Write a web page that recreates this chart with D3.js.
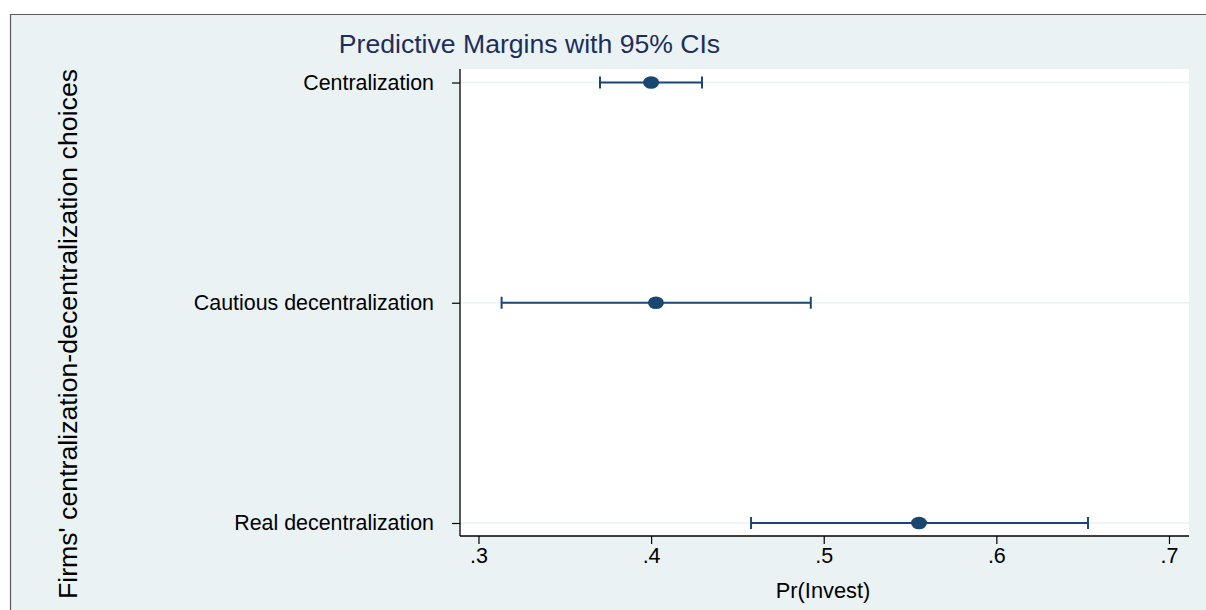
<!DOCTYPE html>
<html>
<head>
<meta charset="utf-8">
<script src="https://cdn.jsdelivr.net/npm/d3@7"></script>
<style>
  html, body { margin: 0; padding: 0; background: #ffffff; }
  svg { display: block; }
  text { font-family: "Liberation Sans", Arial, sans-serif; }
</style>
</head>
<body>
<svg id="chart" width="1206" height="610"></svg>
<script>
// ---- data ----
const categories = ["Centralization", "Cautious decentralization", "Real decentralization"];
const margins    = [0.4000, 0.4028, 0.5552];
const ciLow      = [0.3704, 0.3134, 0.4579];
const ciHigh     = [0.4295, 0.4925, 0.6531];
const xTicks     = [0.3, 0.4, 0.5, 0.6, 0.7];
const xTickLabels = [".3", ".4", ".5", ".6", ".7"];
const titleText  = "Predictive Margins with 95% CIs";
const xTitle     = "Pr(Invest)";
const yTitle     = "Firms' centralization-decentralization choices";

// ---- layout ----
const W = 1206, H = 610;
const plot = { left: 460, right: 1189, top: 69, bottom: 536 };
const navy = "#1a476f";
const bg = "#eaf2f3";
const fontFam = "'Liberation Sans', Arial, sans-serif";

const svg = d3.select("#chart");

// outer frame
svg.append("rect").attr("x", 10).attr("y", 14).attr("width", W - 10).attr("height", H - 14)
  .attr("fill", bg);
svg.append("line").attr("x1", 10).attr("x2", W).attr("y1", 14.5).attr("y2", 14.5)
  .attr("stroke", "#5a5a5a").attr("stroke-width", 1.2);
svg.append("line").attr("x1", 10.5).attr("x2", 10.5).attr("y1", 14).attr("y2", H)
  .attr("stroke", "#5a5a5a").attr("stroke-width", 1.2);

// plot region
svg.append("rect").attr("x", plot.left).attr("y", plot.top)
  .attr("width", plot.right - plot.left).attr("height", plot.bottom - plot.top)
  .attr("fill", "#ffffff");

const x = d3.scaleLinear().domain([0.2893, 0.7116]).range([plot.left, plot.right]);
const y = d3.scalePoint().domain(categories).range([82.5, 523]);

// gridlines
svg.append("g").selectAll("line").data(categories).join("line")
  .attr("x1", plot.left).attr("x2", plot.right)
  .attr("y1", d => y(d)).attr("y2", d => y(d))
  .attr("stroke", bg).attr("stroke-width", 1.6);

// x axis
const xAxis = svg.append("g").attr("transform", `translate(0,${plot.bottom})`)
  .call(d3.axisBottom(x).tickValues(xTicks).tickFormat((d, i) => xTickLabels[i]).tickSize(8).tickPadding(4));
xAxis.select(".domain").attr("stroke", "#000").attr("stroke-width", 1.3)
  .attr("d", `M${plot.left},0H${plot.right}`);
xAxis.selectAll(".tick line").attr("stroke", "#000").attr("stroke-width", 1.2);
xAxis.selectAll(".tick text").attr("font-size", 21.5).attr("fill", "#000")
  .attr("font-family", fontFam);

// y axis
const yAxis = svg.append("g").attr("transform", `translate(${plot.left},0)`)
  .call(d3.axisLeft(y).tickSize(8).tickPadding(18));
yAxis.select(".domain").attr("stroke", "#000").attr("stroke-width", 1.3)
  .attr("d", `M0,${plot.top}V${plot.bottom}`);
yAxis.selectAll(".tick line").attr("stroke", "#000").attr("stroke-width", 1.2);
yAxis.selectAll(".tick text").attr("font-size", 21.4).attr("fill", "#000")
  .attr("font-family", fontFam);

// error bars
const rows = categories.map((c, i) => ({ c, m: margins[i], lo: ciLow[i], hi: ciHigh[i] }));
const eb = svg.append("g");
eb.selectAll("line.ci").data(rows).join("line").attr("class", "ci")
  .attr("x1", d => x(d.lo)).attr("x2", d => x(d.hi))
  .attr("y1", d => y(d.c)).attr("y2", d => y(d.c))
  .attr("stroke", navy).attr("stroke-width", 2.2);
eb.selectAll("line.capl").data(rows).join("line").attr("class", "capl")
  .attr("x1", d => x(d.lo)).attr("x2", d => x(d.lo))
  .attr("y1", d => y(d.c) - 6).attr("y2", d => y(d.c) + 6)
  .attr("stroke", navy).attr("stroke-width", 2);
eb.selectAll("line.caph").data(rows).join("line").attr("class", "caph")
  .attr("x1", d => x(d.hi)).attr("x2", d => x(d.hi))
  .attr("y1", d => y(d.c) - 6).attr("y2", d => y(d.c) + 6)
  .attr("stroke", navy).attr("stroke-width", 2);
eb.selectAll("ellipse").data(rows).join("ellipse")
  .attr("cx", d => x(d.m)).attr("cy", d => y(d.c))
  .attr("rx", 8).attr("ry", 6.3).attr("fill", navy);

// titles
svg.append("text").attr("x", 529.5).attr("y", 53).attr("text-anchor", "middle")
  .attr("font-size", 26.6).attr("fill", "#1e2e5c").text(titleText);
svg.append("text").attr("x", 823).attr("y", 598)
  .attr("text-anchor", "middle").attr("font-size", 21.8).attr("fill", "#000").text(xTitle);
svg.append("text").attr("transform", `translate(77,334) rotate(-90)`)
  .attr("text-anchor", "middle").attr("font-size", 26.7).attr("fill", "#000").text(yTitle);
</script>
</body>
</html>
